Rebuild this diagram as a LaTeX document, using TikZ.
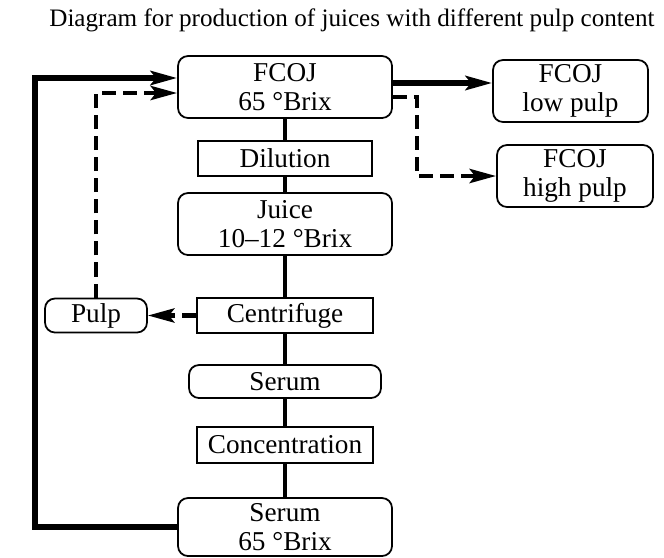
\documentclass[tikz,border=0pt]{standalone}
\usepackage{fontspec}
\setmainfont{Liberation Serif}
\usetikzlibrary{arrows.meta,positioning}

\begin{document}
\begin{tikzpicture}[>={Stealth[length=15pt,width=8pt,inset=3pt]},node distance=1.4cm,
                    line width=2.8pt]
	\tikzstyle{stage}=[draw,line width=1pt,rounded corners=0.2cm,align=center,
	                   minimum width=4.28cm,minimum height=1.24cm,inner sep=1pt,
	                   font=\fontsize{15.5}{16.5}\selectfont]
	\tikzstyle{process}=[draw,line width=1pt,rectangle,minimum width=3.52cm,
	                     minimum height=0.7cm,inner sep=1pt,
	                     font=\fontsize{15.5}{16.5}\selectfont]
	\tikzstyle{flow}=[->,line width=3.2pt]
	\tikzstyle{pulpflow}=[->,line width=2.6pt,dash pattern=on 8pt off 4pt]

	\useasboundingbox (0,0) rectangle (13.28,-11.14);

	\node (title) at (7.04,-0.40)
		{\fontsize{14.3}{17}\selectfont Diagram for production of juices with different pulp content};

	% main line, top to bottom
	\node[stage]					(fcoj)		at (5.70,-1.74)	{FCOJ\\65 °Brix};
	\node[process,minimum width=3.48cm]	(dilution)	[below of=fcoj,node distance=1.43cm]	{Dilution};
	\node[stage]					(juice)		[below of=dilution,node distance=1.31cm]	{Juice\\10--12 °Brix};
	\node[process]					(centrifuge)	[below of=juice,node distance=1.83cm]	{Centrifuge};
	\node[stage,minimum width=3.84cm,minimum height=0.66cm]	(serum)	[below of=centrifuge,node distance=1.32cm]	{Serum};
	\node[process,minimum height=0.72cm]	(concentration)	[below of=serum,node distance=1.27cm]	{Concentration};
	\node[stage,minimum height=1.16cm]		(serumc)	[below of=concentration,node distance=1.64cm]	{Serum\\65 °Brix};

	% side products
	\node[stage,minimum width=2.04cm,minimum height=0.68cm]	(pulp)	[left of=centrifuge,node distance=3.78cm]	{Pulp};
	\node[stage,minimum width=3.1cm]		(lowpulp)	at (11.41,-1.82)	{FCOJ\\low pulp};
	\node[stage,minimum width=3.12cm]		(highpulp)	at (11.50,-3.52)	{FCOJ\\high pulp};

	\coordinate (loopl) at (0.70,-5);
	\coordinate (split) at (8.34,-2.6);
	\coordinate (fcojout) at ([yshift=0.08cm]fcoj.east);

	\draw (fcoj) -- (dilution) -- (juice) -- (centrifuge) -- (serum) -- (concentration) -- (serumc);

	% serum goes back to the concentrate
	\draw[flow] (serumc.west) -| (loopl) |- ([yshift=0.18cm]fcoj.west);
	\draw[flow] (fcojout) -- (fcojout -| lowpulp.west);

	% pulp stream
	\draw[pulpflow] (centrifuge.west) -- (pulp.east);
	\draw[pulpflow] (pulp.north) |- ([yshift=-0.12cm]fcoj.west);
	\draw[pulpflow] ([yshift=-0.2cm]fcoj.east) -| (split) |- (highpulp.west);
\end{tikzpicture}
\end{document}
